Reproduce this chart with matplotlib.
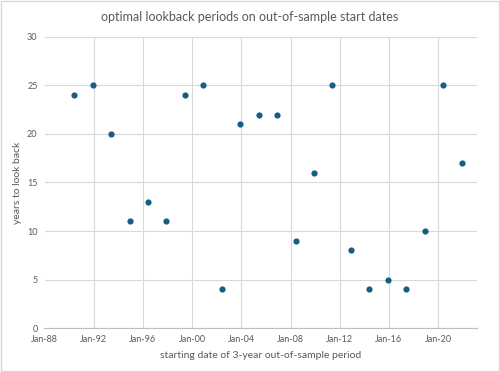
import matplotlib
matplotlib.use("Agg")
import matplotlib.pyplot as plt
import matplotlib.dates as mdates
import numpy as np
import pandas as pd

# ------------------------------------------------------------
# datos
# ------------------------------------------------------------
start_dates = [
    "1990-06-01", "1991-12-01", "1993-06-01", "1994-12-01", "1996-06-01",
    "1997-12-01", "1999-06-01", "2000-12-01", "2002-06-01", "2003-12-01",
    "2005-06-01", "2006-12-01", "2008-06-01", "2009-12-01", "2011-06-01",
    "2012-12-01", "2014-06-01", "2015-12-01", "2017-06-01", "2018-12-01",
    "2020-06-01", "2021-12-01",
]
lookback_years = [24, 25, 20, 11, 13, 11, 24, 25, 4, 21,
                  22, 22, 9, 16, 25, 8, 4, 5, 4, 10, 25, 17]

title = "optimal lookback periods on out-of-sample start dates"
xlabel = "starting date of 3-year out-of-sample period"
ylabel = "years to look back"

fechas = pd.to_datetime(start_dates)

plt.rcParams["font.family"] = ["Lato", "DejaVu Sans"]

grey_text = "#595959"
grid_col = "#d9d9d9"
marker_col = "#156082"

fig = plt.figure(figsize=(5, 3.72), dpi=100)
ax = fig.add_axes([0.089, 0.118, 0.865, 0.783])

ax.scatter(fechas, lookback_years, s=20, color=marker_col, zorder=3,
           linewidths=0)

ax.set_xlim(pd.Timestamp("1988-01-01"), pd.Timestamp("2023-03-01"))
ax.set_ylim(0, 30)
ax.set_yticks(np.arange(0, 31, 5))
ax.xaxis.set_major_locator(mdates.YearLocator(4, month=1, day=1))
ax.xaxis.set_major_formatter(mdates.DateFormatter("%b-%y"))

ax.grid(True, color=grid_col, linewidth=0.8)
ax.set_axisbelow(True)
for s in ["top", "right", "left"]:
    ax.spines[s].set_visible(False)
ax.spines["bottom"].set_color("#bfbfbf")
ax.tick_params(length=0, labelsize=6.5, colors=grey_text, pad=5)

fig.text(0.5, 0.955, title, fontsize=9, color=grey_text,
         ha="center", va="center")
ax.set_xlabel(xlabel, fontsize=7.5, color=grey_text, labelpad=5)
ax.set_ylabel(ylabel, fontsize=7.5, color=grey_text, labelpad=4)

# borde del gráfico
fig.patches.append(plt.Rectangle((0.002, 0.003), 0.996, 0.994,
                                 transform=fig.transFigure, fill=False,
                                 edgecolor="#d9d9d9", linewidth=1))

fig.savefig("out.png", dpi=100)
